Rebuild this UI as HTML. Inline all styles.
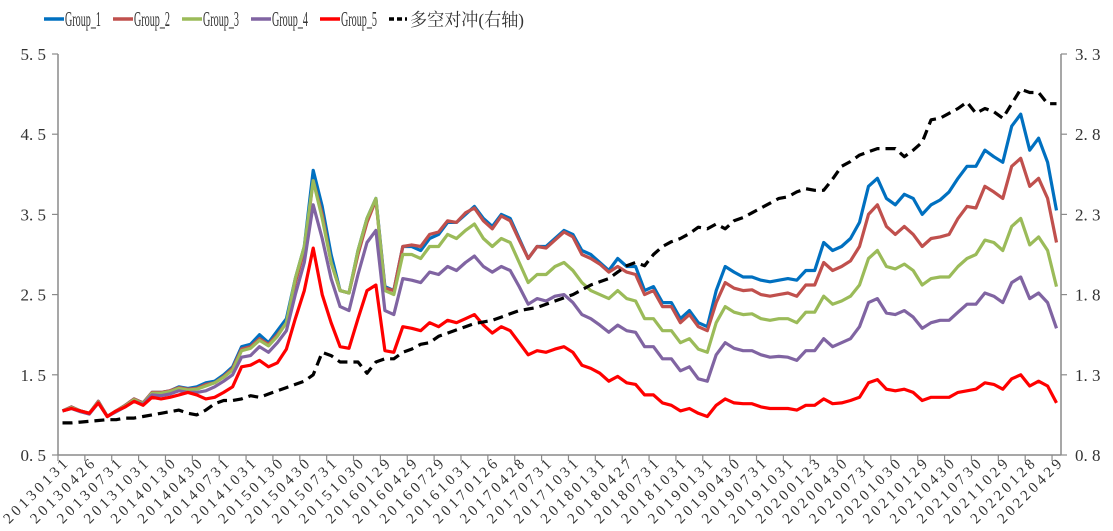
<!DOCTYPE html>
<html><head><meta charset="utf-8"><style>
html,body{margin:0;padding:0;background:#fff;width:1113px;height:531px;overflow:hidden}
svg{display:block}
text{font-family:"Liberation Serif","Noto Serif CJK SC",serif;fill:#333}
</style></head><body>
<svg id="chart" width="1113" height="531" viewBox="0 0 1113 531" xmlns="http://www.w3.org/2000/svg">
<g id="legend"></g>
<g id="axes"></g>
<g id="series"></g>
</svg>
<script>
const tickLabels=["20130131","20130426","20130731","20131031","20140130","20140430","20140731","20141031","20150130","20150430","20150731","20151030","20160129","20160429","20160729","20161031","20170126","20170428","20170731","20171031","20180131","20180427","20180731","20181031","20190131","20190430","20190731","20191031","20200123","20200430","20200731","20201030","20210129","20210430","20210730","20211029","20220128","20220429"];
const leftTicks=[0.5,1.5,2.5,3.5,4.5,5.5];
const rightTicks=[0.8,1.3,1.8,2.3,2.8,3.3];
const g1=[1.05,1.10,1.05,1.02,1.17,0.98,1.05,1.12,1.20,1.15,1.28,1.28,
1.30,1.35,1.33,1.35,1.40,1.42,1.50,1.60,1.85,1.88,2.00,1.90,
2.05,2.20,2.70,3.10,4.05,3.60,3.00,2.55,2.52,3.05,3.45,3.70,
2.60,2.55,3.10,3.10,3.05,3.20,3.25,3.40,3.40,3.50,3.60,3.45,
3.35,3.50,3.45,3.20,2.95,3.10,3.10,3.20,3.30,3.25,3.05,3.00,
2.90,2.80,2.95,2.85,2.85,2.55,2.60,2.40,2.40,2.20,2.30,2.15,
2.10,2.55,2.85,2.78,2.72,2.72,2.68,2.66,2.68,2.70,2.68,2.80,
2.80,3.15,3.05,3.10,3.20,3.40,3.85,3.95,3.70,3.62,3.75,3.70,
3.50,3.62,3.68,3.78,3.95,4.10,4.10,4.30,4.22,4.15,4.60,4.75,
4.30,4.45,4.15,3.55];
const g2=[1.05,1.10,1.05,1.02,1.17,0.98,1.05,1.12,1.20,1.15,1.28,1.28,
1.30,1.34,1.32,1.33,1.38,1.40,1.48,1.58,1.82,1.85,1.95,1.88,
2.0,2.15,2.65,3.05,3.92,3.5,2.9,2.55,2.52,3.0,3.4,3.68,
2.58,2.55,3.1,3.12,3.1,3.25,3.28,3.42,3.4,3.52,3.58,3.42,
3.32,3.48,3.42,3.18,2.95,3.1,3.08,3.18,3.28,3.22,3.0,2.95,
2.88,2.78,2.85,2.78,2.75,2.5,2.55,2.35,2.35,2.15,2.25,2.1,
2.05,2.4,2.65,2.58,2.55,2.56,2.5,2.48,2.5,2.52,2.48,2.62,
2.62,2.9,2.8,2.85,2.92,3.1,3.5,3.62,3.35,3.25,3.35,3.25,
3.1,3.2,3.22,3.25,3.45,3.6,3.58,3.85,3.78,3.7,4.1,4.2,
3.85,3.95,3.7,3.15];
const g3=[1.05,1.09,1.05,1.02,1.16,0.98,1.05,1.11,1.19,1.14,1.27,1.27,
1.29,1.33,1.31,1.32,1.36,1.40,1.47,1.56,1.80,1.83,1.93,1.86,
1.98,2.15,2.7,3.1,3.92,3.45,2.9,2.55,2.52,3.05,3.45,3.7,
2.55,2.5,3.0,3.0,2.95,3.1,3.1,3.25,3.2,3.3,3.38,3.2,
3.1,3.2,3.15,2.9,2.65,2.75,2.75,2.85,2.9,2.8,2.65,2.55,
2.5,2.45,2.55,2.45,2.42,2.2,2.2,2.05,2.05,1.9,1.95,1.82,
1.78,2.15,2.35,2.28,2.25,2.26,2.2,2.18,2.2,2.2,2.15,2.28,
2.28,2.48,2.38,2.42,2.48,2.62,2.95,3.05,2.85,2.82,2.88,2.8,
2.62,2.7,2.72,2.72,2.85,2.95,3.0,3.18,3.15,3.05,3.35,3.45,
3.12,3.22,3.05,2.6];
const g4=[1.05,1.08,1.04,1.01,1.15,0.98,1.04,1.1,1.17,1.13,1.25,1.24,
1.26,1.3,1.28,1.28,1.3,1.35,1.42,1.5,1.72,1.74,1.85,1.78,
1.9,2.05,2.5,2.9,3.62,3.2,2.7,2.35,2.3,2.75,3.15,3.3,
2.3,2.25,2.7,2.68,2.65,2.78,2.75,2.85,2.8,2.9,2.98,2.85,
2.78,2.85,2.8,2.6,2.38,2.45,2.42,2.48,2.5,2.4,2.25,2.2,
2.12,2.03,2.12,2.05,2.03,1.85,1.85,1.7,1.7,1.55,1.6,1.45,
1.42,1.75,1.9,1.83,1.8,1.8,1.75,1.72,1.73,1.72,1.68,1.8,
1.8,1.95,1.85,1.9,1.95,2.1,2.4,2.45,2.27,2.25,2.3,2.22,
2.08,2.15,2.18,2.18,2.28,2.38,2.38,2.52,2.48,2.4,2.65,2.72,
2.45,2.52,2.4,2.08];
const g5=[1.05,1.08,1.05,1.02,1.15,0.98,1.05,1.1,1.17,1.12,1.22,1.2,
1.22,1.25,1.28,1.25,1.2,1.22,1.28,1.35,1.6,1.62,1.68,1.6,
1.65,1.82,2.2,2.55,3.08,2.5,2.15,1.85,1.83,2.2,2.55,2.62,
1.8,1.78,2.1,2.08,2.05,2.15,2.1,2.18,2.15,2.2,2.25,2.12,
2.02,2.1,2.05,1.9,1.75,1.8,1.78,1.82,1.85,1.78,1.62,1.58,
1.52,1.42,1.48,1.4,1.38,1.25,1.25,1.15,1.12,1.05,1.08,1.02,
0.98,1.12,1.2,1.15,1.14,1.14,1.1,1.08,1.08,1.08,1.06,1.12,
1.12,1.2,1.14,1.15,1.18,1.22,1.4,1.44,1.32,1.3,1.32,1.28,
1.18,1.22,1.22,1.22,1.28,1.3,1.32,1.4,1.38,1.32,1.45,1.5,
1.36,1.42,1.36,1.15];
const hedge=[1.0,1.0,1.005,1.01,1.015,1.02,1.02,1.03,1.03,1.04,1.05,1.06,
1.07,1.08,1.06,1.05,1.08,1.12,1.14,1.14,1.15,1.17,1.16,1.18,
1.2,1.22,1.24,1.26,1.3,1.44,1.42,1.38,1.38,1.38,1.31,1.38,
1.4,1.4,1.44,1.46,1.49,1.5,1.54,1.56,1.58,1.6,1.62,1.63,
1.64,1.66,1.68,1.7,1.71,1.72,1.74,1.76,1.78,1.8,1.83,1.86,
1.88,1.9,1.94,1.98,2.0,1.98,2.05,2.1,2.13,2.15,2.18,2.22,
2.21,2.24,2.21,2.26,2.28,2.31,2.34,2.37,2.4,2.41,2.44,2.46,
2.45,2.45,2.52,2.6,2.63,2.67,2.69,2.71,2.71,2.71,2.66,2.7,
2.75,2.89,2.9,2.93,2.96,3.0,2.93,2.96,2.94,2.9,2.99,3.08,
3.06,3.06,2.99,2.99];

const NS="http://www.w3.org/2000/svg";
const X0=58,X1=1061,YT=54,YB=455,N=g1.length;
const step=(X1-X0)/N;
const xS=i=>X0+(i+0.5)*step;
const yL=v=>YB-(v-0.5)/5*(YB-YT);
const yR=v=>YB-(v-0.8)/2.5*(YB-YT);
function mk(tag,attrs,parent){const e=document.createElementNS(NS,tag);for(const k in attrs)e.setAttribute(k,attrs[k]);parent.appendChild(e);return e;}
const axes=document.getElementById('axes'),ser=document.getElementById('series'),leg=document.getElementById('legend');
const AC="#8a8a8a";
let e;
e=mk('line',{x1:X0,y1:YT,x2:X0,y2:YB,stroke:AC,'stroke-width':1.5},axes);


e=mk('line',{x1:X1,y1:YT,x2:X1,y2:YB,stroke:AC,'stroke-width':1.5},axes);


e=mk('line',{x1:X0,y1:YB,x2:X1,y2:YB,stroke:AC,'stroke-width':1.5},axes);


leftTicks.forEach(v=>{const y=yL(v);
 mk('line',{x1:X0-6,y1:y,x2:X0,y2:y,stroke:AC,'stroke-width':1.2},axes);
 const t=mk('text',{x:X0-12,y:y+6,'text-anchor':'end','font-size':17},axes);t.textContent=v.toFixed(1).replace('.','. ');
 
 });
rightTicks.forEach(v=>{const y=yR(v);
 mk('line',{x1:X1,y1:y,x2:X1+6,y2:y,stroke:AC,'stroke-width':1.2},axes);
 const t=mk('text',{x:X1+14,y:y+6,'font-size':17},axes);t.textContent=v.toFixed(1).replace('.','. ');
 
 });
for(let k=0;k<=N;k+=3){const x=X0+k*step;mk('line',{x1:x,y1:YB,x2:x,y2:YB+6,stroke:AC,'stroke-width':1.2},axes);}
tickLabels.forEach((lab,j)=>{const x=xS(j*3)+6,y=YB+10;
 const t=mk('text',{x:x,y:y,'text-anchor':'end','font-size':15,textLength:84,lengthAdjust:'spacing',transform:`rotate(-45 ${x} ${y})`},axes);t.textContent=lab;
 
 });
const defs=[[g1,'#0070C0','group-1-line',yL,''],[g2,'#C0504D','group-2-line',yL,''],[g3,'#9BBB59','group-3-line',yL,''],[g4,'#8064A2','group-4-line',yL,''],[g5,'#FF0000','group-5-line',yL,''],[hedge,'#000','long-short-hedge-line',yR,'10,6']];
defs.forEach(([d,c,name,ys,dash])=>{
 const p=mk('polyline',{points:d.map((v,i)=>xS(i).toFixed(1)+','+ys(v).toFixed(1)).join(' '),fill:'none',stroke:c,'stroke-width':3.2,'stroke-linejoin':'round'},ser);
 if(dash)p.setAttribute('stroke-dasharray',dash);
 
 });
const legItems=[['Group_1','#0070C0',44,36],['Group_2','#C0504D',113,36],['Group_3','#9BBB59',182,36],['Group_4','#8064A2',251,36],['Group_5','#FF0000',320,36],['多空对冲(右轴)','#000',389,114]];
legItems.forEach(([lab,c,x,w],i)=>{
 const g=mk('g',{},leg);
 
 
 const l=mk('line',{x1:x,y1:19,x2:x+20,y2:19,stroke:c,'stroke-width':3.5},g);
 if(i==5){l.setAttribute('stroke-dasharray','5,3');l.setAttribute('x2',x+18);}
 const t=mk('text',{x:x+21,y:26,'font-size':i==5?18:21,textLength:w,lengthAdjust:'spacingAndGlyphs'},g);t.textContent=lab;});
</script>
</body></html>
